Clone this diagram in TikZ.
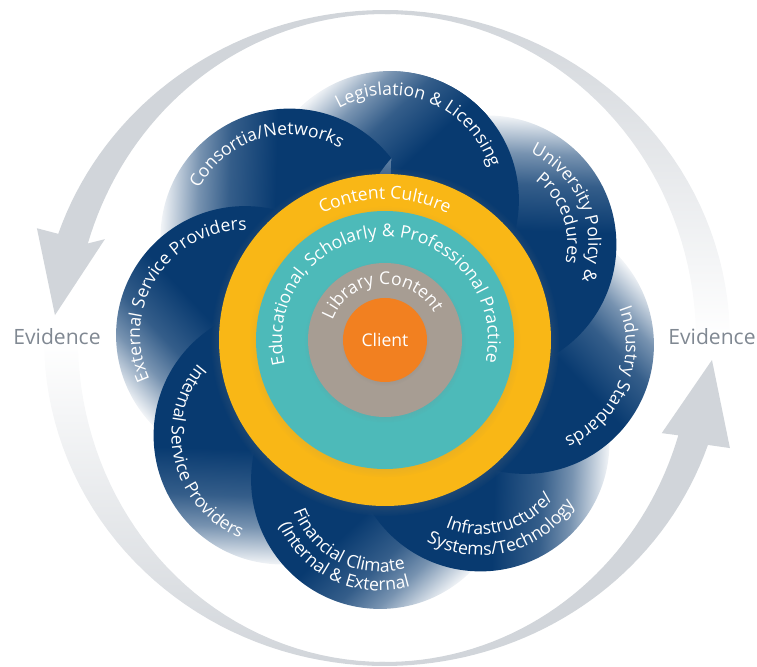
\documentclass[tikz,border=0pt]{standalone}
\usepackage{fontspec}
\setmainfont{Open Sans}
\usetikzlibrary{decorations.text,shadows,calc}

\definecolor{petalblue}{RGB}{8,58,112}
\definecolor{culture}{RGB}{249,183,22}
\definecolor{practice}{RGB}{77,186,185}
\definecolor{content}{RGB}{167,157,147}
\definecolor{client}{RGB}{242,128,32}
\definecolor{arrowgray}{RGB}{209,213,218}
\definecolor{evgray}{RGB}{128,136,146}

\pgfdeclarehorizontalshading{petalfade}{100bp}{color(0bp)=(petalblue); color(53bp)=(petalblue); color(62bp)=(petalblue!82!white); color(68bp)=(petalblue!55!white); color(75bp)=(petalblue!6!white); color(100bp)=(petalblue!6!white)}

\tikzset{
  petal/.style={shading=petalfade},
  ringtext/.style={decorate, decoration={text along path, text color=white, text align=center, text={|\fontsize{10}{12}\selectfont|#1}}},
  evidence/.style={text=evgray, font=\fontsize{12}{14}\selectfont},
  ringshadow/.style={circular drop shadow={shadow xshift=0pt, shadow yshift=-1pt, shadow scale=1.05, opacity=#1}}
}

\begin{document}
\begin{tikzpicture}[x=0.02cm, y=0.02cm]
    \useasboundingbox (-385,-326) rectangle (372,340);
    \def\bandw{(4+30*pow(cos(\x),2))/2}
    % evidence arrows
    \fill[arrowgray] plot[domain=89:162, samples=40] (\x:{328+\bandw})
        -- (162.2:365.6) -- (175.7:331) -- (160.2:297.7)
        -- plot[domain=162:89, samples=40] (\x:{328-\bandw}) -- cycle;
    \shade[top color=arrowgray, middle color=arrowgray, bottom color=white]
        plot[domain=0:90, samples=40] (\x:{328+\bandw})
        -- plot[domain=90:0, samples=40] (\x:{328-\bandw}) -- cycle;
    \fill[arrowgray] plot[domain=269:342, samples=40] (\x:{324+\bandw})
        -- (342.6:361.5) -- (356.5:327.6) -- (341.4:292)
        -- plot[domain=342:269, samples=40] (\x:{324-\bandw}) -- cycle;
    \shade[top color=white, middle color=arrowgray, bottom color=arrowgray]
        plot[domain=180:270, samples=40] (\x:{324+\bandw})
        -- plot[domain=270:180, samples=40] (\x:{324-\bandw}) -- cycle;
    \node[evidence] (evleft) at (-328,3) {Evidence};
    \node[evidence] (evright) at (327,3) {Evidence};

    % petals
    \foreach \a/\n in {88/leg,133/con,178/ext,223/int,268/fin,313/inf,358/ind,43/uni}
        \coordinate (\n) at (\a:140);
    \foreach \a/\n [evaluate=\a as \sa using \a+45] in {88/leg,133/con,178/ext,223/int,268/fin,313/inf,358/ind,43/uni}
        \shade[petal, shading angle=\sa] (\n) circle[radius=129];
    \begin{scope}
        \clip (0,0) -- (0:400) -- (44:560) -- (88:400) -- cycle;
        \shade[petal, shading angle=133] (leg) circle[radius=129];
    \end{scope}

    % rings
    \fill[culture, ringshadow=0.45] (0,0) circle[radius=166];
    \fill[practice, ringshadow=0.25] (0,0) circle[radius=129];
    \fill[content, ringshadow=0.25] (0,0) circle[radius=77];
    \fill[client, ringshadow=0.25] (0,0) circle[radius=42];
    \node[text=white, font=\fontsize{10}{12}\selectfont] (clientlabel) at (0,0) {Client};

    \path[ringtext={Content Culture}] (170:141) arc[start angle=170, end angle=10, radius=141];
    \path[ringtext={Educational, Scholarly {\&} Professional Practice}] (205:103) arc[start angle=205, end angle=-24, radius=103];
    \path[ringtext={Library Content}] (174:56) arc[start angle=174, end angle=14, radius=56];

    % petal labels
    \path[ringtext={Legislation {\&} Licensing}] ($(leg)+(148.5:105)$) arc[start angle=148.5, end angle=-11.5, radius=105];
    \path[ringtext={University Policy {\&}}] ($(uni)+(102:101)$) arc[start angle=102, end angle=-58, radius=101];
    \path[ringtext={Procedures}] ($(uni)+(100:80)$) arc[start angle=100, end angle=-60, radius=80];
    \path[ringtext={Industry Standards}] ($(ind)+(57:101)$) arc[start angle=57, end angle=-103, radius=101];
    \path[ringtext={Systems/Technology}] ($(inf)+(-156:113)$) arc[start angle=-156, end angle=4, radius=113];
    \path[ringtext={Infrastructure/}] ($(inf)+(-155:92)$) arc[start angle=-155, end angle=5, radius=92];
    \path[ringtext={Financial Climate}] ($(fin)+(163:92)$) arc[start angle=163, end angle=323, radius=92];
    \path[ringtext={(Internal {\&} External}] ($(fin)+(165:111)$) arc[start angle=165, end angle=325, radius=111];
    \path[ringtext={Internal Service Providers}] ($(int)+(113.5:111)$) arc[start angle=113.5, end angle=273.5, radius=111];
    \path[ringtext={External Service Providers}] ($(ext)+(227:105)$) arc[start angle=227, end angle=67, radius=105];
    \path[ringtext={Consortia/Networks}] ($(con)+(186:103)$) arc[start angle=186, end angle=26, radius=103];
\end{tikzpicture}
\end{document}
